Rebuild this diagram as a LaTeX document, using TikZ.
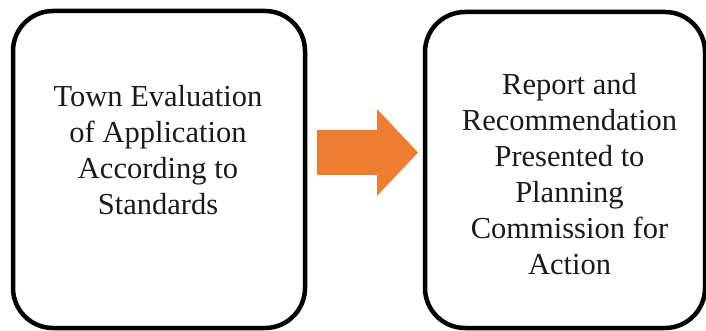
\documentclass[tikz,border=0pt]{standalone}
\usepackage{fontspec}
\setmainfont{Liberation Serif}
\definecolor{arroworange}{HTML}{ED7D31}
\definecolor{textgray}{HTML}{1A1A1A}

\begin{document}
\begin{tikzpicture}[x=1pt, y=-1pt, line join=round,
  stagebox/.style={draw=black, line width=4.5pt, rounded corners=40pt, inner sep=0pt},
  stagetext/.style={align=center, inner sep=0pt, text=textgray, font=\fontsize{30.5}{36}\selectfont}]

  %% ==== boxes ====
  \node[stagebox, minimum width=292pt, minimum height=317pt] (evalbox) at (159,169.5) {};
  \node[stagebox, minimum width=280pt, minimum height=316pt] (reportbox) at (565,170) {};

  %% ==== texts ====
  \node[stagetext] (evaltext) at (158,150.5) {Town Evaluation\\of Application\\According to\\Standards};
  \node[stagetext] (reporttext) at (569.5,174.5) {Report and\\Recommendation\\Presented to\\Planning\\Commission for\\Action};

  %% ==== block arrow ====
  \coordinate (arrowtail) at (317,152.5);
  \fill[arroworange] (arrowtail) ++(0,-22.5) -- ++(60,0) -- ++(0,-21) -- ++(41,43.5)
    -- ++(-41,43.5) -- ++(0,-21) -- ++(-60,0) -- cycle;

  % fix the canvas
  \pgfresetboundingbox
  \path[use as bounding box] (0,0) rectangle (706,331);
\end{tikzpicture}
\end{document}
